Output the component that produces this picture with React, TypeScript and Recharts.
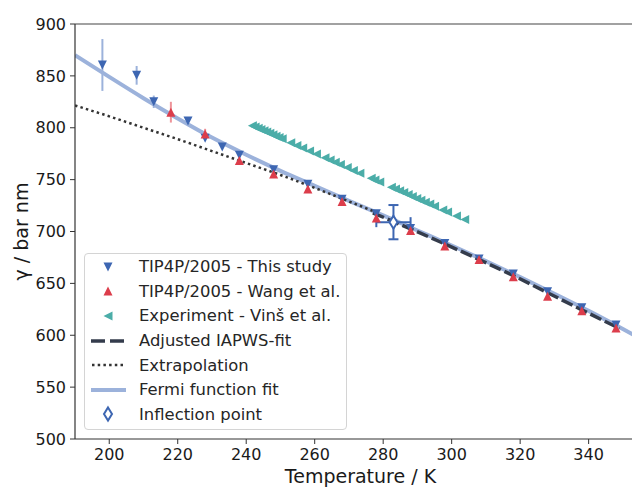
import React from "react";
import {
  ComposedChart,
  Line,
  Scatter,
  XAxis,
  YAxis,
  ErrorBar,
  Legend,
  ReferenceLine,
} from "recharts";

const FONT = "'DejaVu Sans', sans-serif";

// TIP4P/2005 - this study
const studyT = [198, 208, 213, 223, 228, 233, 238, 248, 258, 268, 278, 288, 298, 308, 318, 328, 338, 348];
const studyGamma = [860.5, 850.5, 825, 806.5, 790, 781.5, 773.5, 759.5, 745.5, 731, 717, 703, 688.5, 673.5, 659, 642, 626.5, 610];
const studyErr = [25, 9, 6, 0, 0, 0, 0, 0, 0, 0, 0, 0, 0, 0, 0, 0, 0, 0];

// TIP4P/2005 - Wang et al.
const wangT = [218, 228, 238, 248, 258, 268, 278, 288, 298, 308, 318, 328, 338, 348];
const wangGamma = [815, 794, 768.5, 755.5, 741, 729, 713, 701, 686, 673, 656.5, 637.5, 623.5, 607];
const wangErr = [10, 5, 0, 0, 0, 0, 0, 0, 0, 0, 0, 0, 0, 0];

// Experiment - Vinš et al.
const vinsT = [
  241.8, 242.6, 243.5, 244.3, 245.2, 246.0, 246.9, 247.8, 248.7, 249.6, 250.5, 253.0, 254.8, 256.5,
  258.5, 260.5, 263.0, 264.5, 266.0, 267.5, 269.5, 271.3, 273.2, 276.5, 277.6, 279.0, 282.4, 283.6,
  284.8, 286.0, 287.3, 288.5, 289.8, 291.0, 292.3, 293.6, 295.0, 297.4, 298.8, 301.4, 303.8,
];
const vinsGamma = [
  802.0, 800.8, 799.5, 798.4, 797.0, 795.9, 794.6, 793.2, 791.9, 790.6, 789.3, 785.6, 783.0, 780.5,
  777.6, 774.7, 771.0, 768.9, 766.7, 764.5, 761.6, 758.9, 756.2, 751.3, 749.7, 747.7, 742.7, 741.0,
  739.2, 737.5, 735.6, 733.8, 731.9, 730.2, 728.3, 726.4, 724.3, 720.8, 718.8, 715.0, 711.5,
];

// adjusted IAPWS fit and its extrapolation
const iapwsT = [277, 288, 298, 308, 318, 328, 338, 349];
const iapwsGamma = [718, 702.5, 688, 673, 657.5, 641, 624.5, 606.5];
const extrapT = [190, 200, 210, 220, 230, 240, 250, 260, 270, 278];
const extrapGamma = [821.5, 811, 800, 789, 777.5, 766, 754.5, 742, 729, 718.5];

// Fermi function fit
const fermiT = [190, 200, 210, 220, 230, 240, 250, 260, 270, 280, 290, 300, 310, 320, 330, 340, 350, 355];
const fermiGamma = [870, 849, 828.5, 809, 790.5, 774, 758.5, 744, 729.5, 715.5, 701, 686.5, 671.5, 656, 640, 623.5, 606, 597];

// inflection point
const inflection = [{ x: 283, y: 709, ex: 5, ey: 16.5 }];

const xTicks = [200, 220, 240, 260, 280, 300, 320, 340];
const yTicks = [500, 550, 600, 650, 700, 750, 800, 850, 900];

const BLUE = "#3d66b2";
const RED = "#dc3d4b";
const TEAL = "#4bada8";
const FERMI = "#9cb2db";
const DARK = "#343c4c";
const DOTS = "#333333";

const pts = (xs: number[], ys: number[], es?: number[]) =>
  xs.map((x, i) => ({ x, y: ys[i], err: es ? es[i] : 0 }));

const studyData = pts(studyT, studyGamma, studyErr);
const wangData = pts(wangT, wangGamma, wangErr);
const vinsData = pts(vinsT, vinsGamma);
const iapwsData = pts(iapwsT, iapwsGamma);
const extrapData = pts(extrapT, extrapGamma);
const fermiData = pts(fermiT, fermiGamma);

const H = 4.5;

const triDown = (color: string) => (p: any) =>
  p.cx == null ? <g /> : (
    <path d={`M${p.cx - H},${p.cy - H}L${p.cx + H},${p.cy - H}L${p.cx},${p.cy + H}Z`} fill={color} />
  );
const triUp = (color: string) => (p: any) =>
  p.cx == null ? <g /> : (
    <path d={`M${p.cx - H},${p.cy + H}L${p.cx + H},${p.cy + H}L${p.cx},${p.cy - H}Z`} fill={color} />
  );
const triLeft = (color: string) => (p: any) =>
  p.cx == null ? <g /> : (
    <path d={`M${p.cx + H},${p.cy - H}L${p.cx + H},${p.cy + H}L${p.cx - H},${p.cy}Z`} fill={color} />
  );
const diamond = (color: string) => (p: any) =>
  p.cx == null ? <g /> : (
    <path
      d={`M${p.cx},${p.cy - 6.5}L${p.cx + 4},${p.cy}L${p.cx},${p.cy + 6.5}L${p.cx - 4},${p.cy}Z`}
      fill="#fff"
      stroke={color}
      strokeWidth={2}
    />
  );

const legendItems = [
  { label: "TIP4P/2005 - This study", icon: "down" },
  { label: "TIP4P/2005 - Wang et al.", icon: "up" },
  { label: "Experiment - Vinš et al.", icon: "left" },
  { label: "Adjusted IAPWS-fit", icon: "dash" },
  { label: "Extrapolation", icon: "dot" },
  { label: "Fermi function fit", icon: "fermi" },
  { label: "Inflection point", icon: "diamond" },
];

const LegendIcon = ({ kind }: { kind: string }) => {
  const c = { cx: 20, cy: 10 };
  let el: React.ReactNode = null;
  if (kind === "down") el = triDown(BLUE)(c);
  if (kind === "up") el = triUp(RED)(c);
  if (kind === "left") el = triLeft(TEAL)(c);
  if (kind === "diamond") el = diamond(BLUE)(c);
  if (kind === "dash")
    el = <line x1={3} y1={10} x2={38} y2={10} stroke={DARK} strokeWidth={3.5} strokeDasharray="14 5" />;
  if (kind === "dot")
    el = <line x1={4} y1={10} x2={38} y2={10} stroke={DOTS} strokeWidth={2.5} strokeDasharray="2.5 3.2" />;
  if (kind === "fermi") el = <line x1={3} y1={10} x2={38} y2={10} stroke={FERMI} strokeWidth={4} />;
  return (
    <svg width={40} height={20} style={{ marginLeft: 3, flex: "none" }}>
      {el}
    </svg>
  );
};

const LegendBox = () => (
  <div
    style={{
      boxSizing: "border-box",
      width: 263,
      height: 177,
      border: "1px solid #d4d4d4",
      borderRadius: 4,
      background: "rgba(255,255,255,0.85)",
      fontFamily: FONT,
      fontSize: 16.4,
      color: "#262626",
      paddingTop: 0.5,
    }}
  >
    {legendItems.map((it) => (
      <div key={it.label} style={{ display: "flex", alignItems: "center", height: 24.6, whiteSpace: "nowrap" }}>
        <LegendIcon kind={it.icon} />
        <span style={{ marginLeft: 11 }}>{it.label}</span>
      </div>
    ))}
  </div>
);

const tickStyle = { fill: "#1a1a1a", fontSize: 16, fontFamily: FONT };

export default function App() {
  return (
    <ComposedChart width={632} height={479} margin={{ top: 16, right: 0, bottom: 0, left: 0 }}>
      <XAxis
        type="number"
        dataKey="x"
        domain={[190, 355]}
        ticks={xTicks}
        allowDataOverflow
        height={48}
        tickSize={5}
        tickMargin={5}
        tick={tickStyle}
        stroke="#333"
        axisLine={{ stroke: "#333", strokeWidth: 1.2 }}
        label={{
          value: "Temperature / K",
          position: "insideBottom",
          offset: 4,
          dx: 3,
          fill: "#1a1a1a",
          fontSize: 19,
          fontFamily: FONT,
        }}
      />
      <YAxis
        type="number"
        dataKey="y"
        domain={[500, 900]}
        ticks={yTicks}
        allowDataOverflow
        width={67}
        tickSize={5}
        tickMargin={4}
        tick={tickStyle}
        stroke="#333"
        axisLine={{ stroke: "#333", strokeWidth: 1.2 }}
        label={{
          content: () => (
            <text
              x={20}
              y={223.5}
              transform="rotate(-90 20 223.5)"
              textAnchor="middle"
              fill="#1a1a1a"
              fontSize={19}
              fontFamily={FONT}
            >
              γ / bar nm
            </text>
          ),
        }}
      />
      <ReferenceLine y={900} stroke="#444" strokeWidth={1.2} ifOverflow="extendDomain" />
      <Line
        data={fermiData}
        dataKey="y"
        type="monotone"
        stroke={FERMI}
        strokeWidth={4}
        dot={false}
        isAnimationActive={false}
        legendType="none"
      />
      <Line
        data={extrapData}
        dataKey="y"
        type="monotone"
        stroke={DOTS}
        strokeWidth={2.5}
        strokeDasharray="2.5 3.2"
        dot={false}
        isAnimationActive={false}
        legendType="none"
      />
      <Scatter data={studyData} shape={triDown(BLUE)} isAnimationActive={false}>
        <ErrorBar dataKey="err" direction="y" width={0} stroke={FERMI} strokeWidth={2} />
      </Scatter>
      <Scatter data={wangData} shape={triUp(RED)} isAnimationActive={false}>
        <ErrorBar dataKey="err" direction="y" width={0} stroke="#ee949a" strokeWidth={2} />
      </Scatter>
      <Scatter data={vinsData} shape={triLeft(TEAL)} isAnimationActive={false} />
      <Line
        data={iapwsData}
        dataKey="y"
        type="monotone"
        stroke={DARK}
        strokeWidth={3.5}
        strokeDasharray="12 4"
        dot={false}
        isAnimationActive={false}
        legendType="none"
      />
      <Scatter data={inflection} shape={diamond(BLUE)} isAnimationActive={false}>
        <ErrorBar dataKey="ex" direction="x" width={5} stroke={BLUE} strokeWidth={2} />
        <ErrorBar dataKey="ey" direction="y" width={5} stroke={BLUE} strokeWidth={2} />
      </Scatter>
      <Legend
        layout="vertical"
        align="center"
        verticalAlign="middle"
        wrapperStyle={{ left: 76, top: 245, width: 263, height: 177 }}
        content={LegendBox}
      />
    </ComposedChart>
  );
}
